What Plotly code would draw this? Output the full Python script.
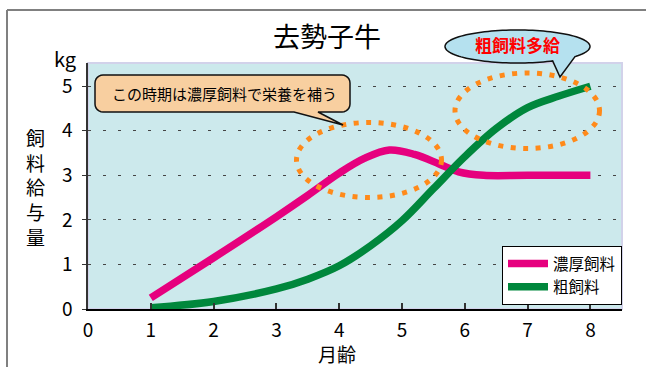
import numpy as np
import plotly.graph_objects as go

# ---- data ----
conc_name = "濃厚飼料"
conc_x = [1, 2, 3, 3.5, 4, 4.4, 4.8, 5.2, 5.6, 5.9, 6.3, 7, 8]
conc_y = [0.25, 1.15, 2.07, 2.55, 3.05, 3.38, 3.57, 3.47, 3.25, 3.08, 3.0, 3.0, 3.0]

rough_name = "粗飼料"
rough_x = [1, 2, 3, 3.5, 4, 4.5, 5, 5.5, 6, 6.5, 7, 7.5, 8]
rough_y = [0.03, 0.17, 0.45, 0.67, 0.97, 1.42, 1.98, 2.7, 3.42, 4.05, 4.52, 4.78, 5.0]

x_ticks = [0, 1, 2, 3, 4, 5, 6, 7, 8]
y_ticks = [0, 1, 2, 3, 4, 5]

title_text = "去勢子牛"
x_title = "月齢"
y_title = "飼料給与量"
y_unit = "kg"
note1 = "この時期は濃厚飼料で栄養を補う"
note2 = "粗飼料多給"

# ---- layout geometry (pixels) ----
W, H = 646, 367
L, R, T, B = 88, 24, 63, 58
PW, PH = W - L - R, H - T - B
FONT = "Noto Sans CJK JP"


def px(x):
    return (x - L) / PW


def py(y):
    return (H - B - y) / PH


def path_from(points):
    s = "M" + " L".join(f"{px(a):.5f},{py(b):.5f}" for a, b in points)
    return s + " Z"


def ellipse_tail(cx, cy, rx, ry, t_start, t_end, tip):
    pts = []
    for t in np.arange(0, 360, 3.0):
        if t_start < t < t_end:
            continue
        pts.append((cx + rx * np.cos(np.radians(t)), cy + ry * np.sin(np.radians(t))))
        if abs(t - (t_start - t_start % 3)) < 1e-9:
            pts.append((cx + rx * np.cos(np.radians(t_start)), cy + ry * np.sin(np.radians(t_start))))
            pts.append(tip)
            pts.append((cx + rx * np.cos(np.radians(t_end)), cy + ry * np.sin(np.radians(t_end))))
    return pts


def rrect_tail(x0, y0, x1, y1, r, base_l, base_r, tip):
    pts = []
    def arc(cx, cy, a0, a1):
        for a in np.linspace(a0, a1, 7):
            pts.append((cx + r * np.cos(np.radians(a)), cy + r * np.sin(np.radians(a))))
    arc(x0 + r, y0 + r, 180, 270)
    arc(x1 - r, y0 + r, 270, 360)
    arc(x1 - r, y1 - r, 0, 90)
    pts.append((base_r, y1))
    pts.append(tip)
    pts.append((base_l, y1))
    arc(x0 + r, y1 - r, 90, 180)
    return pts


fig = go.Figure()
fig.add_trace(go.Scatter(x=conc_x, y=conc_y, name=conc_name, mode="lines",
                         line=dict(color="#E6007E", width=7.5, shape="spline")))
fig.add_trace(go.Scatter(x=rough_x, y=rough_y, name=rough_name, mode="lines",
                         line=dict(color="#00873C", width=7.5, shape="spline")))

shapes = []
# outer frame lines
shapes.append(dict(type="line", xref="paper", yref="paper", x0=px(7), x1=px(646), y0=py(10), y1=py(10),
                   line=dict(color="#808080", width=2)))
shapes.append(dict(type="line", xref="paper", yref="paper", x0=px(7), x1=px(7), y0=py(10), y1=py(367),
                   line=dict(color="#808080", width=2)))
# plot area border
shapes.append(dict(type="rect", xref="paper", yref="paper", x0=0, x1=1, y0=0, y1=1,
                   line=dict(color="#D2D2EA", width=2), layer="below"))
# orange dotted ellipses
orange = "#FF8A1A"
shapes.append(dict(type="circle", xref="paper", yref="paper", x0=px(296.5), x1=px(441.5),
                   y0=py(197.5), y1=py(122.5), line=dict(color=orange, width=5, dash="5px,7.5px")))
shapes.append(dict(type="circle", xref="paper", yref="paper", x0=px(455), x1=px(599.5),
                   y0=py(148.5), y1=py(73), line=dict(color=orange, width=5, dash="5px,7.5px")))
# callout 1 (rounded rect)
shapes.append(dict(type="path", xref="paper", yref="paper",
                   path=path_from(rrect_tail(95, 75, 350, 112, 8, 294, 318, (343, 125))),
                   fillcolor="#F8CFA0", line=dict(color="#111111", width=1.5)))
# callout 2 (ellipse)
shapes.append(dict(type="path", xref="paper", yref="paper",
                   path=path_from(ellipse_tail(517.5, 46.5, 72.5, 16.5, 37.5, 61.0, (560, 77))),
                   fillcolor="#B5E1EF", line=dict(color="#111111", width=1.5)))

annotations = [
    dict(text=title_text, x=px(327), y=py(35), xref="paper", yref="paper", showarrow=False,
         font=dict(size=27, color="black", family=FONT), xanchor="center", yanchor="middle"),
    dict(text=y_unit, x=px(65), y=py(58), xref="paper", yref="paper", showarrow=False,
         font=dict(size=20, color="black", family=FONT), xanchor="center", yanchor="middle"),
    dict(text=x_title, x=px(337), y=py(353), xref="paper", yref="paper", showarrow=False,
         font=dict(size=19, color="black", family=FONT), xanchor="center", yanchor="middle"),
    dict(text="<br>".join(list(y_title)), x=px(35.5), y=py(187), xref="paper", yref="paper",
         showarrow=False, font=dict(size=19, color="black", family=FONT),
         xanchor="center", yanchor="middle"),
    dict(text=note1, x=px(224), y=py(93), xref="paper", yref="paper", showarrow=False,
         font=dict(size=15, color="black", family=FONT), xanchor="center", yanchor="middle"),
    dict(text="<b>" + note2 + "</b>", x=px(517), y=py(45), xref="paper", yref="paper", showarrow=False,
         font=dict(size=17, color="#FF0000", family=FONT), xanchor="center", yanchor="middle"),
]

fig.update_layout(
    width=W, height=H,
    margin=dict(l=L, r=R, t=T, b=B, pad=0),
    paper_bgcolor="white",
    plot_bgcolor="#CCE9EC",
    font=dict(family=FONT, color="black"),
    shapes=shapes,
    annotations=annotations,
    showlegend=True,
    legend=dict(x=px(502), y=py(246), xanchor="left", yanchor="top",
                bgcolor="white", bordercolor="black", borderwidth=1,
                font=dict(size=15.5, family=FONT, color="black"),
                tracegroupgap=0, itemwidth=40),
    xaxis=dict(range=[0, PW / 62.8], tickvals=x_ticks, ticktext=[str(v) for v in x_ticks],
               showgrid=False, zeroline=False, showline=True, linecolor="black", linewidth=2,
               ticks="inside", ticklen=6, tickcolor="#333333", tickwidth=1.5,
               tickfont=dict(size=19, family=FONT, color="black"), ticklabelstandoff=3),
    yaxis=dict(range=[0, PH / 44.55], tickvals=y_ticks, ticktext=[str(v) for v in y_ticks],
               showgrid=True, gridcolor="#444444", gridwidth=1, griddash="3px,12px",
               zeroline=False, showline=True, linecolor="#333333", linewidth=1.5,
               ticks="outside", ticklen=4, tickcolor="#333333",
               tickfont=dict(size=19, family=FONT, color="black"), ticklabelstandoff=6),
)

fig.write_html("out.html")
